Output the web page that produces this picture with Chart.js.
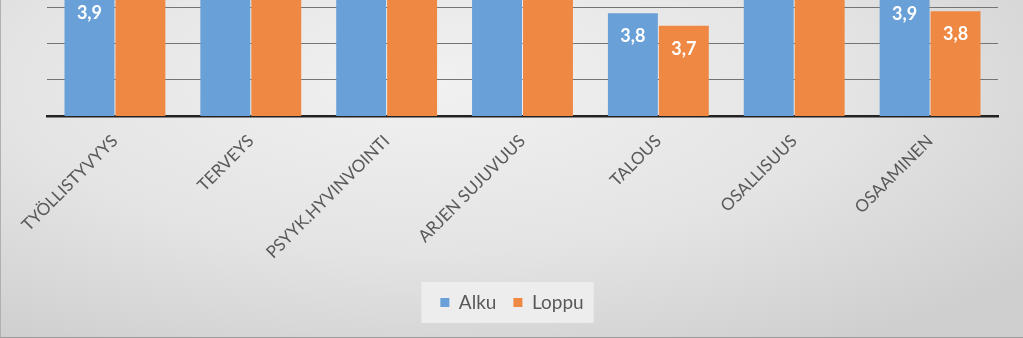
<!DOCTYPE html>
<html>
<head>
<meta charset="utf-8">
<script src="https://cdn.jsdelivr.net/npm/chart.js@4/dist/chart.umd.min.js"></script>
<style>
  html, body { margin: 0; padding: 0; }
  #wrap {
    width: 1023px; height: 338px; position: relative; box-sizing: border-box;
    background: radial-gradient(ellipse 75% 90% at 42% 25%, #f1f1f1 0%, #e4e4e4 55%, #cfcfcf 100%);
    border-left: 1px solid #b0b0b0; border-bottom: 1px solid #9a9a9a;
  }
  canvas { position: absolute; left: 0; top: 0; }
</style>
</head>
<body>
<div id="wrap"><canvas id="barChart" width="1022" height="337"></canvas></div>
<script>
// categories and values (tops above the crop are estimated)
var categories = ['TYÖLLISTYVYYS', 'TERVEYS', 'PSYYK.HYVINVOINTI', 'ARJEN SUJUVUUS', 'TALOUS', 'OSALLISUUS', 'OSAAMINEN'];
var alku = [3.9, 4.2, 4.1, 4.2, 3.77, 4.2, 3.89];
var loppu = [4.1, 4.2, 4.2, 4.3, 3.7, 4.3, 3.78];
var yMin = 3.2;
var yMax = 3.843;
var yStep = 0.2;

// white value labels just inside the top of each bar
var valueLabels = {
    id: 'valueLabels',
    afterDatasetsDraw: function (chart) {
        var ctx = chart.ctx;
        var y = chart.scales.y;
        ctx.save();
        ctx.fillStyle = '#ffffff';
        ctx.font = 'bold 18px Lato';
        ctx.textAlign = 'center';
        ctx.textBaseline = 'middle';
        chart.data.datasets.forEach(function (ds, i) {
            chart.getDatasetMeta(i).data.forEach(function (bar, j) {
                var top = y.getPixelForValue(ds.data[j]);
                ctx.fillText(ds.data[j].toFixed(1).replace('.', ','), bar.x, top + 23);
            });
        });
        ctx.restore();
    }
};

// light box behind the legend
var legendBox = {
    id: 'legendBox',
    beforeDraw: function (chart) {
        var boxes = chart.legend.legendHitBoxes;
        if (!boxes || !boxes.length) return;
        var l = Infinity, r = -Infinity, t = Infinity, b = -Infinity;
        boxes.forEach(function (h) {
            l = Math.min(l, h.left); r = Math.max(r, h.left + h.width);
            t = Math.min(t, h.top); b = Math.max(b, h.top + h.height);
        });
        var mid = (t + b) / 2;
        var ctx = chart.ctx;
        ctx.save();
        ctx.fillStyle = 'rgba(240,240,240,0.85)';
        ctx.fillRect(l - 19, mid - 20.5, r - l + 29, 41);
        ctx.restore();
    }
};

var ctx = document.getElementById('barChart').getContext('2d');
new Chart(ctx, {
    type: 'bar',
    data: {
        labels: categories,
        datasets: [
            { label: 'Alku', data: alku, backgroundColor: '#68a0d7' },
            { label: 'Loppu', data: loppu, backgroundColor: '#ee8843' }
        ]
    },
    options: {
        responsive: false,
        animation: false,
        layout: { padding: { left: 0, right: 0, top: 0, bottom: 15 } },
        datasets: { bar: { categoryPercentage: 0.75, barPercentage: 0.98 } },
        scales: {
            x: {
                grid: { display: false },
                border: { display: true, color: '#222222', width: 2.5 },
                ticks: {
                    color: '#595959',
                    font: { family: 'Lato', size: 17 },
                    minRotation: 45,
                    maxRotation: 45,
                    padding: 7,
                    autoSkip: false
                },
                afterFit: function (scale) { scale.height = 160; }
            },
            y: {
                min: yMin,
                max: yMax,
                ticks: { display: false },
                grid: { color: '#747474', lineWidth: 1, drawTicks: false },
                border: { display: false },
                afterBuildTicks: function (scale) {
                    var t = [];
                    for (var v = yMin + yStep; v < yMax; v += yStep) t.push({ value: v });
                    scale.ticks = t;
                },
                afterFit: function (scale) { scale.width = 46; }
            },
            yRight: {
                position: 'right',
                grid: { display: false },
                ticks: { display: false },
                border: { display: false },
                afterFit: function (scale) { scale.width = 25; }
            }
        },
        plugins: {
            legend: {
                position: 'bottom',
                labels: {
                    boxWidth: 9,
                    boxHeight: 9,
                    color: '#595959',
                    font: { family: 'Lato', size: 19 },
                    padding: 17
                }
            },
            tooltip: { enabled: false }
        }
    },
    plugins: [valueLabels, legendBox]
});
</script>
</body>
</html>
